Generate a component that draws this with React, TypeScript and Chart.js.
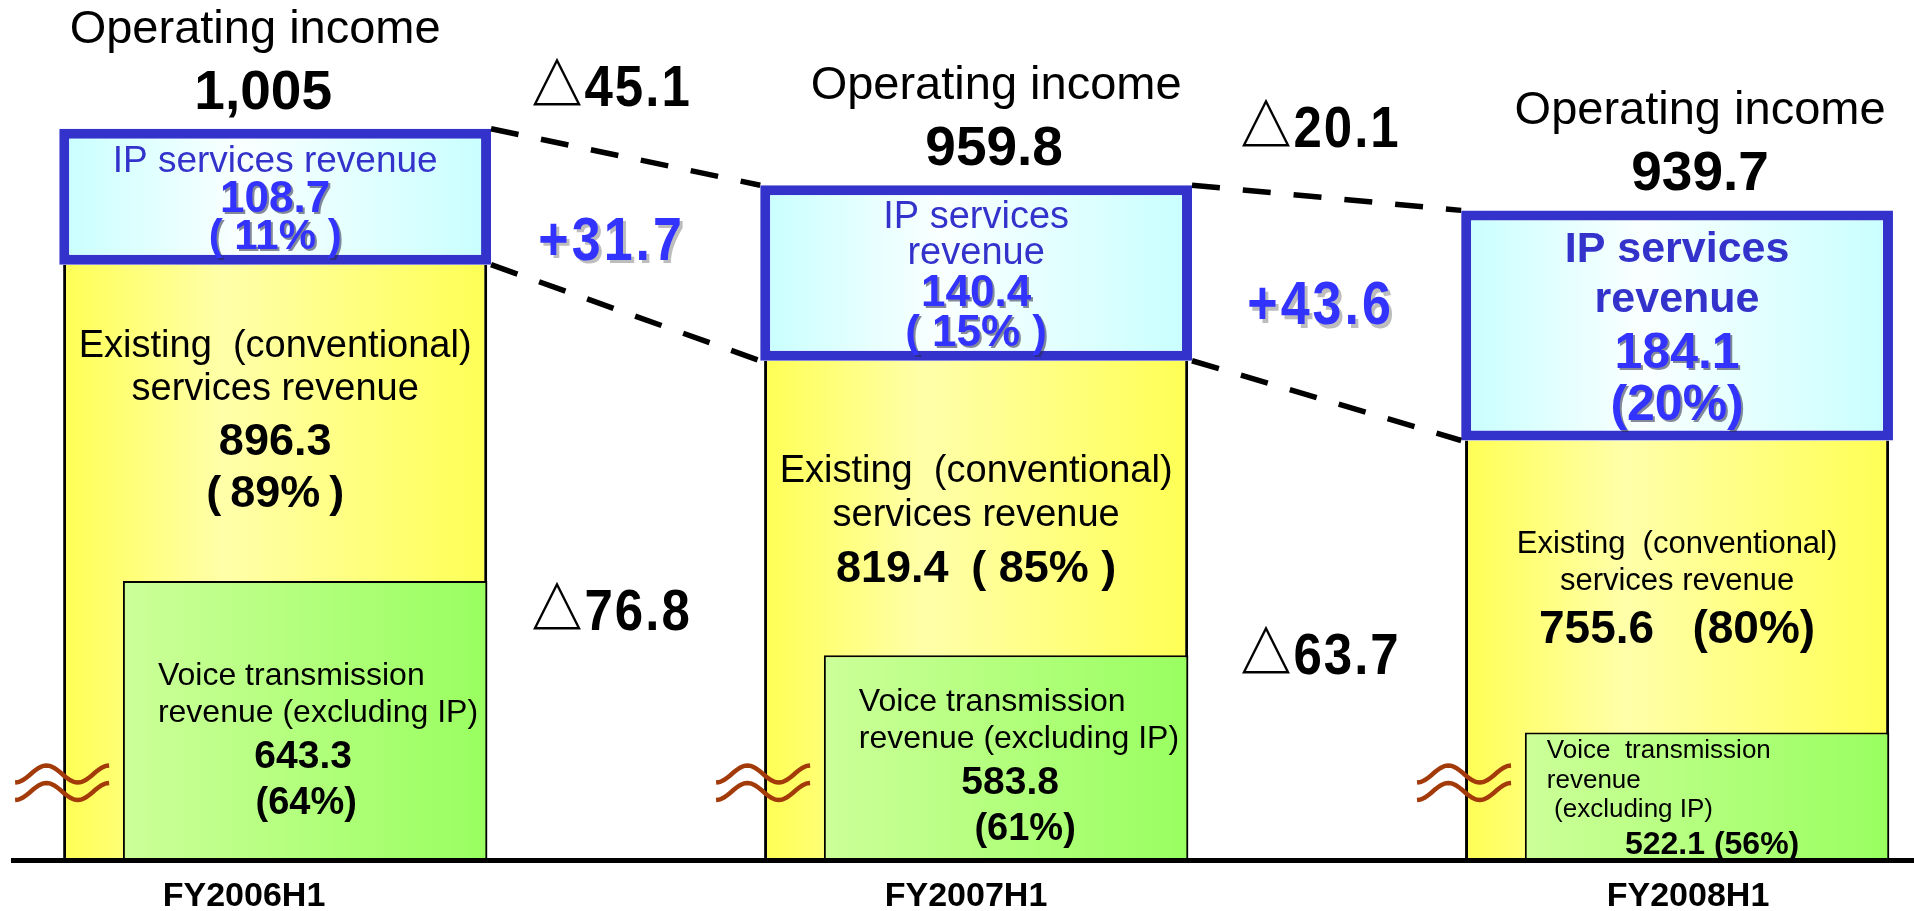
import React, { useEffect, useRef } from 'react';
import { Chart, registerables } from 'chart.js';

Chart.register(...registerables);

// ---------- data ----------
const periods = ['FY2006H1', 'FY2007H1', 'FY2008H1'];
const operatingIncome = [1005, 959.8, 939.7];
const ipRevenue = [108.7, 140.4, 184.1];
const ipShare = [11, 15, 20];
const existingRevenue = [896.3, 819.4, 755.6];
const existingShare = [89, 85, 80];
const voiceRevenue = [643.3, 583.8, 522.1];
const voiceShare = [64, 61, 56];
const incomeChange = [-45.1, -20.1];
const ipChange = [31.7, 43.6];
const existingChange = [-76.8, -63.7];

// ---------- axis configuration (broken value axis) ----------
const Y_MIN = 420;
const Y_MAX = 1108;
const BAR_MIN = -0.374;
const BAR_MAX = 2.338;
const GREEN_SHIFT = 0.0428;
const LABEL_MIN = -0.32;
const LABEL_MAX = 2.313;

const FONT = "'Liberation Sans', 'Noto Sans CJK JP', Arial, sans-serif";
const BLUE_TEXT = '#3333CC';
const BLUE_NUM = '#3333FF';
const NUM_SHADOW = 'rgba(40,40,70,0.55)';

const YELLOW_STOPS: [number, string][] = [[0, '#FFFF55'], [0.38, '#FFFFAA'], [1, '#FFFF55']];
const BLUE_STOPS: [number, string][] = [[0, '#C8FFFF'], [0.42, '#FAFFFF'], [1, '#C8FFFF']];
const GREEN_STOPS: [number, string][] = [[0, '#CCFF99'], [1, '#99FF60']];

const fmt = (v: number) => v.toLocaleString('en-US', { maximumFractionDigits: 1 });
const delta = (v: number) => (v < 0 ? '△' : '+') + Math.abs(v).toFixed(1);

type Line = {
  t: string;
  size: number;
  bold?: boolean;
  color?: string;
  shadow?: string;
  gap?: number;
  x?: number;
  align?: CanvasTextAlign;
};

type TextOpts = {
  align?: CanvasTextAlign;
  shadow?: string;
  shadowOff?: number;
  scaleY?: number;
  spacing?: number;
};

function drawText(
  ctx: CanvasRenderingContext2D,
  t: string,
  x: number,
  y: number,
  size: number,
  bold: boolean | undefined,
  color: string,
  o: TextOpts = {}
) {
  ctx.save();
  ctx.font = `${bold ? 'bold ' : ''}${size}px ${FONT}`;
  ctx.textAlign = o.align ?? 'center';
  ctx.textBaseline = 'alphabetic';
  if (o.spacing) (ctx as any).letterSpacing = `${o.spacing}px`;
  ctx.translate(x, y);
  if (o.scaleY) ctx.scale(1, o.scaleY);
  if (o.shadow) {
    const so = o.shadowOff ?? 2;
    ctx.fillStyle = o.shadow;
    ctx.fillText(t, so, so);
  }
  ctx.fillStyle = color;
  ctx.fillText(t, 0, 0);
  ctx.restore();
}

function drawBlock(ctx: CanvasRenderingContext2D, lines: Line[], cx: number, cy: number) {
  let acc = 0;
  const baselines = lines.map((l, i) => (acc += i === 0 ? 0 : l.gap ?? l.size * 1.1));
  const top = -lines[0].size * 0.72;
  const bottom = baselines[baselines.length - 1];
  const off = cy - (top + bottom) / 2;
  lines.forEach((l, i) =>
    drawText(ctx, l.t, l.x ?? cx, baselines[i] + off, l.size, l.bold, l.color ?? '#000', {
      align: l.align ?? 'center',
      shadow: l.shadow,
    })
  );
}

function ipLines(i: number): Line[] {
  const pct = i === 2 ? `(${ipShare[i]}%)` : `( ${ipShare[i]}% )`;
  if (i === 0) {
    return [
      { t: 'IP services revenue', size: 37, color: BLUE_TEXT },
      { t: fmt(ipRevenue[i]), size: 44, bold: true, color: BLUE_NUM, shadow: NUM_SHADOW, gap: 40 },
      { t: pct, size: 42, bold: true, color: BLUE_NUM, shadow: NUM_SHADOW, gap: 37 },
    ];
  }
  const b = i === 2;
  const s = b ? 43 : 38;
  const n = b ? 50 : 44;
  return [
    { t: 'IP services', size: s, bold: b, color: BLUE_TEXT },
    { t: 'revenue', size: s, bold: b, color: BLUE_TEXT, gap: b ? 50 : 36 },
    { t: fmt(ipRevenue[i]), size: n, bold: true, color: BLUE_NUM, shadow: NUM_SHADOW, gap: b ? 56 : 42 },
    { t: pct, size: n, bold: true, color: BLUE_NUM, shadow: NUM_SHADOW, gap: b ? 52 : 40 },
  ];
}

function existingLines(i: number): Line[] {
  const small = i === 2;
  const s = small ? 31 : 38;
  const first: Line[] = [
    { t: 'Existing  (conventional)', size: s },
    { t: 'services revenue', size: s, gap: small ? 37 : i === 0 ? 43 : 44 },
  ];
  if (i === 0) {
    return [
      ...first,
      { t: fmt(existingRevenue[0]), size: 45, bold: true, gap: 55 },
      { t: `(\u2009${existingShare[0]}%\u2009)`, size: 45, bold: true, gap: 52 },
    ];
  }
  if (i === 1) {
    return [
      ...first,
      { t: `${fmt(existingRevenue[1])}\u2002( ${existingShare[1]}% )`, size: 45, bold: true, gap: 56 },
    ];
  }
  return [...first, { t: `${fmt(existingRevenue[2])}   (${existingShare[2]}%)`, size: 46, bold: true, gap: 53 }];
}

function voiceLines(i: number, left: number, cx: number): Line[] {
  if (i < 2) {
    return [
      { t: 'Voice transmission', size: 32, x: left + 35, align: 'left' },
      { t: 'revenue (excluding IP)', size: 32, x: left + 35, align: 'left', gap: 37 },
      { t: fmt(voiceRevenue[i]), size: 39, bold: true, x: cx + (i === 0 ? -2 : 4), gap: 46 },
      { t: `(${voiceShare[i]}%)`, size: 38, bold: true, x: cx + (i === 0 ? 1 : 19), gap: 46 },
    ];
  }
  return [
    { t: 'Voice  transmission', size: 26, x: left + 22, align: 'left' },
    { t: 'revenue', size: 26, x: left + 22, align: 'left', gap: 30 },
    { t: ' (excluding IP)', size: 26, x: left + 22, align: 'left', gap: 29 },
    { t: `${fmt(voiceRevenue[2])} (${voiceShare[2]}%)`, size: 32, bold: true, x: cx + 5, gap: 37 },
  ];
}

function drawBreakMark(ctx: CanvasRenderingContext2D, x0: number, yc: number) {
  ctx.save();
  ctx.strokeStyle = '#A33A0A';
  ctx.lineWidth = 4.5;
  for (const dy of [0, 17.5]) {
    ctx.beginPath();
    for (let s = 0; s <= 48; s++) {
      const t = s / 48;
      const x = x0 + t * 94;
      const y = yc + dy + 8.5 * Math.cos(3 * Math.PI * t);
      if (s === 0) ctx.moveTo(x, y);
      else ctx.lineTo(x, y);
    }
    ctx.stroke();
  }
  ctx.restore();
}

const TOP_LABEL_DX = [-20, 20, 23];
const TOP_NUM_DX = [-12, 18, 23];
const EXIST_BIAS = [-4, 10, 0];
const VOICE_BIAS = [18, 6, 0];
const DELTA_DX = [-14, -6];

const decorPlugin = {
  id: 'decor',
  beforeDatasetsDraw(chart: any) {
    const ctx: CanvasRenderingContext2D = chart.ctx;
    const fills: [number, [number, string][]][] = [
      [0, BLUE_STOPS],
      [1, GREEN_STOPS],
      [2, YELLOW_STOPS],
    ];
    fills.forEach(([idx, stops]) => {
      chart.getDatasetMeta(idx).data.forEach((el: any) => {
        const l = el.x - el.width / 2;
        const r = el.x + el.width / 2;
        const g = ctx.createLinearGradient(l, 0, r, 0);
        stops.forEach(([o, c]) => g.addColorStop(o, c));
        el.options = Object.assign({}, el.options, { backgroundColor: g });
      });
    });
  },
  afterDatasetsDraw(chart: any) {
    const ctx: CanvasRenderingContext2D = chart.ctx;
    const blue = chart.getDatasetMeta(0).data;
    const green = chart.getDatasetMeta(1).data;
    const yellow = chart.getDatasetMeta(2).data;
    const baseY = chart.scales.y.getPixelForValue(Y_MIN);

    // dashed connectors between IP boxes
    ctx.save();
    ctx.strokeStyle = '#000';
    ctx.lineWidth = 5.5;
    ctx.setLineDash([28, 23]);
    for (let k = 0; k < blue.length - 1; k++) {
      const a = blue[k];
      const b = blue[k + 1];
      const ar = a.x + a.width / 2;
      const bl = b.x - b.width / 2;
      ctx.beginPath();
      ctx.moveTo(ar, a.y);
      ctx.lineTo(bl, b.y);
      ctx.stroke();
      ctx.beginPath();
      ctx.moveTo(ar, a.base);
      ctx.lineTo(bl, b.base);
      ctx.stroke();
    }
    ctx.restore();

    // per-bar texts
    blue.forEach((bl: any, i: number) => {
      const cx = bl.x;
      const top = bl.y;
      drawText(ctx, 'Operating income', cx + TOP_LABEL_DX[i], top - 86, 47, false, '#000');
      drawText(ctx, fmt(operatingIncome[i]), cx + TOP_NUM_DX[i], top - 20, 55, true, '#000');

      drawBlock(ctx, ipLines(i), cx, (bl.y + bl.base) / 2);

      const gr = green[i];
      drawBlock(ctx, existingLines(i), yellow[i].x, (bl.base + gr.y) / 2 + EXIST_BIAS[i]);

      const gLeft = gr.x - gr.width / 2;
      drawBlock(ctx, voiceLines(i, gLeft, gr.x), gr.x, (gr.y + baseY) / 2 + VOICE_BIAS[i]);

      const yl = yellow[i];
      drawBreakMark(ctx, yl.x - yl.width / 2 - 48, baseY - 86);
    });

    // change annotations between periods
    for (let k = 0; k < blue.length - 1; k++) {
      const a = blue[k];
      const b = blue[k + 1];
      const mid = (a.x + a.width / 2 + b.x - b.width / 2) / 2 + DELTA_DX[k];
      drawText(ctx, delta(incomeChange[k]), mid, (a.y + b.y) / 2 - 51, 51, true, '#000', {
        scaleY: 1.14,
        spacing: 2,
      });
      const ipMid = (a.y + b.y + a.base + b.base) / 4;
      drawText(ctx, delta(ipChange[k]), mid, ipMid + 25, 52, true, BLUE_NUM, {
        shadow: '#BDBDBD',
        shadowOff: 3,
        scaleY: 1.16,
        spacing: 3,
      });
      const exMid = ((a.base + b.base) / 2 + baseY) / 2 + 44;
      drawText(ctx, delta(existingChange[k]), mid, exMid, 51, true, '#000', { scaleY: 1.14, spacing: 2 });
    }
  },
};

const fixedTicks = (scale: any) => {
  scale.ticks = periods.map((_, i) => ({ value: i }));
};

export default function App() {
  const ref = useRef<HTMLCanvasElement>(null);

  useEffect(() => {
    if (!ref.current) return;
    const chart = new Chart(ref.current, {
      type: 'bar',
      data: {
        datasets: [
          {
            label: 'IP services revenue',
            xAxisID: 'xb',
            data: periods.map((_, i) => ({ x: i, y: [existingRevenue[i], operatingIncome[i]] })) as any,
            grouped: false,
            categoryPercentage: 1,
            barPercentage: 0.616,
            backgroundColor: '#CCFFFF',
            borderColor: '#3333CC',
            borderWidth: 10,
            borderSkipped: false,
            inflateAmount: 0,
          },
          {
            label: 'Voice transmission revenue (excluding IP)',
            xAxisID: 'xg',
            data: periods.map((_, i) => ({ x: i, y: voiceRevenue[i] })) as any,
            base: Y_MIN,
            grouped: false,
            categoryPercentage: 1,
            barPercentage: 0.52,
            backgroundColor: '#B3FF80',
            borderColor: '#000',
            borderWidth: { top: 2, left: 2, right: 2, bottom: 0 },
            borderSkipped: false,
            inflateAmount: 0,
          },
          {
            label: 'Existing (conventional) services revenue',
            xAxisID: 'xb',
            data: periods.map((_, i) => ({ x: i, y: existingRevenue[i] })) as any,
            base: Y_MIN,
            grouped: false,
            categoryPercentage: 1,
            barPercentage: 0.605,
            backgroundColor: '#FFFF77',
            borderColor: '#000',
            borderWidth: { top: 0, left: 3, right: 3, bottom: 0 },
            borderSkipped: false,
            inflateAmount: 0,
          },
        ],
      } as any,
      options: {
        responsive: false,
        animation: false,
        devicePixelRatio: 1,
        layout: { padding: { left: 13, right: 0, top: 0, bottom: 0 } },
        plugins: {
          legend: { display: false },
          tooltip: { enabled: false },
        },
        scales: {
          x: {
            type: 'linear',
            position: 'bottom',
            min: LABEL_MIN,
            max: LABEL_MAX,
            bounds: 'data',
            offset: false,
            grid: { display: false, drawTicks: false, offset: false },
            border: { display: true, color: '#000', width: 5, z: 1 },
            afterBuildTicks: fixedTicks,
            afterFit: (s: any) => {
              s.height = 51;
            },
            ticks: {
              autoSkip: false,
              maxRotation: 0,
              minRotation: 0,
              padding: 16,
              color: '#000',
              font: { family: FONT, size: 34, weight: 'bold' },
              callback: (v: any) => periods[v] ?? '',
            },
          },
          xb: {
            type: 'linear',
            position: 'bottom',
            display: false,
            min: BAR_MIN,
            max: BAR_MAX,
            bounds: 'data',
            offset: false,
            grid: { offset: false },
            afterBuildTicks: fixedTicks,
          },
          xg: {
            type: 'linear',
            position: 'bottom',
            display: false,
            min: BAR_MIN - GREEN_SHIFT,
            max: BAR_MAX - GREEN_SHIFT,
            bounds: 'data',
            offset: false,
            grid: { offset: false },
            afterBuildTicks: fixedTicks,
          },
          y: {
            type: 'linear',
            display: false,
            min: Y_MIN,
            max: Y_MAX,
            bounds: 'data',
          },
        },
      } as any,
      plugins: [decorPlugin],
    });
    return () => chart.destroy();
  }, []);

  return (
    <div style={{ position: 'absolute', left: 0, top: 0, width: 1914, height: 911, background: '#fff' }}>
      <canvas ref={ref} width={1914} height={911} style={{ display: 'block' }} />
    </div>
  );
}
